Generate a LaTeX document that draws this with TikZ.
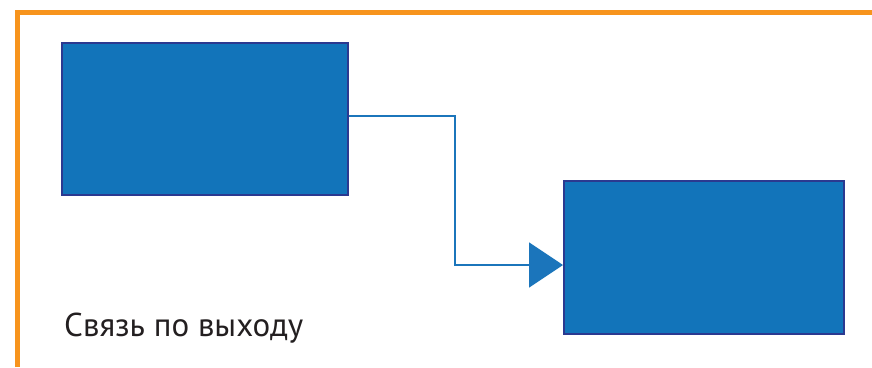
\documentclass[tikz,border=0pt]{standalone}
\usepackage{fontspec}
\setmainfont{PT Sans}
\usetikzlibrary{arrows.meta}
\definecolor{frameorange}{HTML}{F7941D}
\definecolor{boxfill}{HTML}{1274BA}
\definecolor{boxedge}{HTML}{2B3990}
\definecolor{linkblue}{HTML}{1B75BB}
\definecolor{txt}{HTML}{231F20}
\tikzset{
  block/.style={draw=boxedge, fill=boxfill, line width=2pt, minimum width=#1, inner sep=0pt},
  block/.default=286pt,
  frameline/.style={draw=frameorange, line width=5pt},
  link/.style={draw=linkblue, line width=2pt, -{Triangle[length=34pt,width=45pt]}},
  caption/.style={font=\fontsize{33}{39}\selectfont, text=txt, anchor=base west, inner sep=0pt}
}
\begin{document}
\begin{tikzpicture}[x=1pt,y=-1pt]
  \useasboundingbox (0,0) rectangle (872,367);
  % orange frame corner
  \coordinate (fr1) at (17.5,367);
  \coordinate (fr2) at (17.5,12);
  \coordinate (fr3) at (872,12);
  \draw[frameline] (fr1) -- (fr2) -- (fr3);
  % two blocks
  \node[block=286pt, minimum height=152pt] (src) at (205,119) {};
  \node[block=280pt, minimum height=153pt] (dst) at (704,257.5) {};
  % connector with right-angle route
  \draw[link] (src.east |- 0,116) -| (455,190) |- (dst.west |- 0,265);
  % caption
  \node[caption] (cap) at (64,336) {Связь по выходу};
\end{tikzpicture}
\end{document}
